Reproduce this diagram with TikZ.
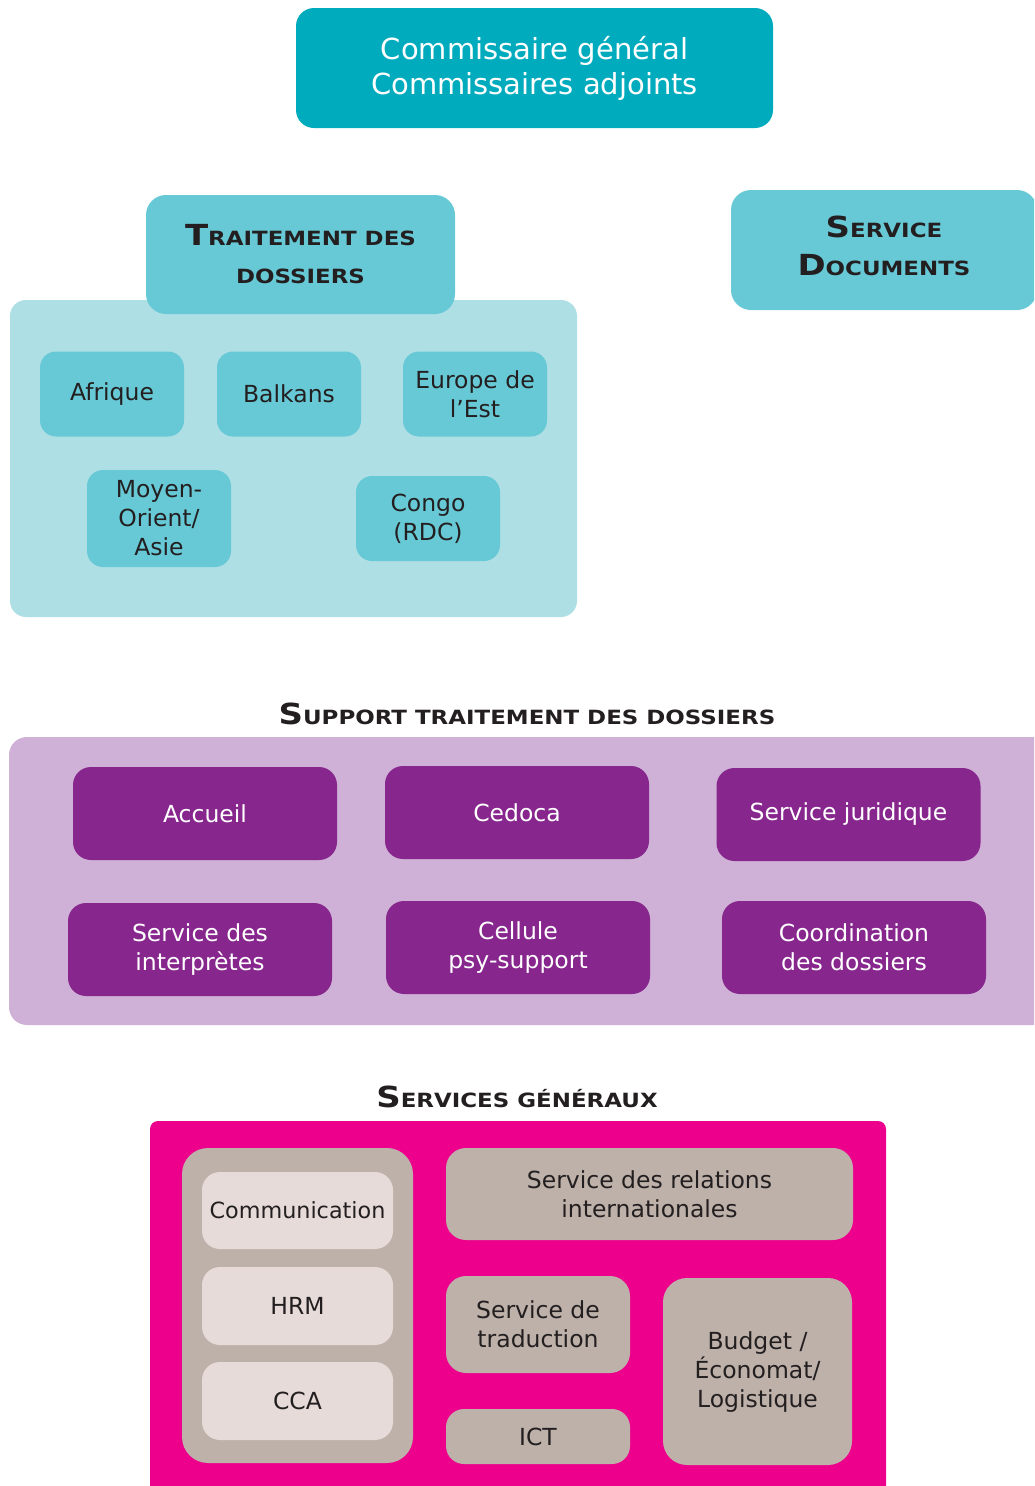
\documentclass[tikz,border=0pt]{standalone}
\usepackage{fontspec}
\setmainfont{DejaVu Sans}
\newfontfamily\scfont[FakeStretch=1.17]{DejaVu Sans Bold}
\definecolor{topteal}{HTML}{00ABBD}
\definecolor{teal}{HTML}{68C9D6}
\definecolor{lightteal}{HTML}{AEDFE5}
\definecolor{lilac}{HTML}{CFB0D6}
\definecolor{purple}{HTML}{87278E}
\definecolor{magenta}{HTML}{EC008C}
\definecolor{taupe}{HTML}{BDB1A9}
\definecolor{pale}{HTML}{E6DBD8}
\definecolor{ink}{HTML}{231F20}
\newcommand\smcap[2]{{\scfont\fontsize{29}{38}\selectfont #1}{\scfont\fontsize{19.6}{38}\selectfont #2}}
\newcommand\bodyfont{\fontsize{23.5}{29}\selectfont}
\newcommand\titlefont{\fontsize{19.6}{38}\selectfont}
\begin{document}
\begin{tikzpicture}[x=1pt,y=-1pt,
  box/.style={rectangle, inner sep=0pt, align=center, draw=none},
  sub/.style={box, fill=teal, rounded corners=16pt, minimum width=144pt, text=ink, font=\bodyfont},
  pbox/.style={box, fill=purple, rounded corners=18pt, minimum width=264pt, minimum height=93pt, text=white, font=\bodyfont},
  gbox/.style={box, fill=taupe, rounded corners=20pt, text=ink, font=\bodyfont},
  lbox/.style={box, fill=pale, rounded corners=18pt, minimum width=191pt, minimum height=78pt, text=ink, font=\bodyfont},
  title/.style={box, text=ink, font=\titlefont}
]
\clip (0,0) rectangle (1034,1486);
\fill[white] (0,0) rectangle (1034,1486);

% top
\node[box, fill=topteal, rounded corners=18pt, minimum width=477pt, minimum height=120pt,
  text=white, font={\fontsize{29}{35}\selectfont}] (top) at (534.5,68) {Commissaire général\\Commissaires adjoints};

% traitement des dossiers
\node[box, fill=lightteal, rounded corners=16pt, minimum width=567pt, minimum height=317pt] (cont1) at (293.5,458.5) {};
\node[box, fill=teal, rounded corners=20pt, minimum width=309pt, minimum height=119pt, text=ink, font=\titlefont] (trait) at (300.5,254.5)
  {\smcap{T}{RAITEMENT DES}\\\smcap{}{DOSSIERS}};
\node[box, fill=teal, rounded corners=20pt, minimum width=306pt, minimum height=120pt] (sdoc) at (884,250) {};
\node[title] (sdoctxt) at (884,246) {\smcap{S}{ERVICE}\\\smcap{D}{OCUMENTS}};

\node[sub, minimum height=85pt] (afr) at (112,394) {Afrique};
\node[sub, minimum height=85pt] (bal) at (289,394) {Balkans};
\node[sub, minimum height=85pt] (eur) at (475,394) {Europe de\\l’Est};
\node[sub, minimum height=97pt] (moy) at (159,518.5) {Moyen-\\Orient/\\Asie};
\node[sub, minimum height=85pt] (con) at (428,518.5) {Congo\\(RDC)};

% support
\node[title] (t2) at (527,714) {\smcap{S}{UPPORT TRAITEMENT DES DOSSIERS}};
\node[box, fill=lilac, rounded corners=18pt, minimum width=1041pt, minimum height=288pt] (cont2) at (529.5,881) {};
\node[pbox] (acc) at (205,813.5) {Accueil};
\node[pbox] (ced) at (517,812.5) {Cedoca};
\node[pbox] (jur) at (848.5,814.5) {Service juridique};
\node[pbox] (int) at (200,949.5) {Service des\\interprètes};
\node[pbox] (psy) at (518,947.5) {Cellule\\psy-support};
\node[pbox] (coo) at (854,947.5) {Coordination\\des dossiers};

% services generaux
\node[title] (t3) at (517,1097) {\smcap{S}{ERVICES GÉNÉRAUX}};
\node[box, fill=magenta, rounded corners=8pt, minimum width=736pt, minimum height=379pt] (cont3) at (518,1310.5) {};
\node[gbox, rounded corners=26pt, minimum width=231pt, minimum height=315pt] (col) at (297.5,1305.5) {};
\node[lbox, font={\fontsize{22.3}{29}\selectfont}, minimum height=77pt] (com) at (297.5,1210.5) {Communication};
\node[lbox] (hrm) at (297.5,1306) {HRM};
\node[lbox] (cca) at (297.5,1401) {CCA};
\node[gbox, minimum width=407pt, minimum height=92pt] (rel) at (649.5,1194) {Service des relations\\internationales};
\node[gbox, minimum width=184pt, minimum height=97pt] (tra) at (538,1324.5) {Service de\\traduction};
\node[gbox, rounded corners=18pt, minimum width=184pt, minimum height=55pt] (ict) at (538,1436.5) {ICT};
\node[gbox, rounded corners=24pt, minimum width=189pt, minimum height=187pt] (bud) at (757.5,1371.5) {Budget /\\Économat/\\Logistique};
\end{tikzpicture}
\end{document}
